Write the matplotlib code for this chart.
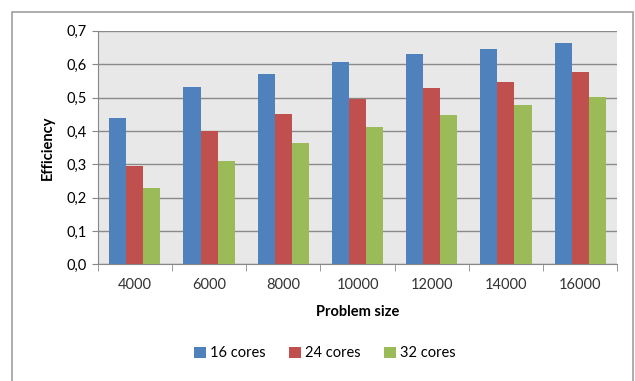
import matplotlib.pyplot as plt
import numpy as np
from matplotlib.patches import Rectangle

sizes = ['4000', '6000', '8000', '10000', '12000', '14000', '16000']
cores16 = [0.44, 0.532, 0.572, 0.606, 0.632, 0.647, 0.664]
cores24 = [0.296, 0.40, 0.452, 0.497, 0.529, 0.548, 0.578]
cores32 = [0.228, 0.309, 0.363, 0.412, 0.448, 0.478, 0.501]
series = [('16 cores', cores16, '#4f81bd'),
          ('24 cores', cores24, '#c0504d'),
          ('32 cores', cores32, '#9bbb59')]

plt.rcParams['font.family'] = ['Lato', 'DejaVu Sans']

fig = plt.figure(figsize=(6.35, 3.81), dpi=100)
# outer chart border
fig.patches.append(Rectangle((0.019, -0.01), 0.978, 0.978, transform=fig.transFigure,
                             fill=False, edgecolor='#a0a0a0', linewidth=1.2))
ax = fig.add_axes([0.154, 0.306, 0.818, 0.613])
ax.set_facecolor('#e8e8e8')

x = np.arange(len(sizes))
w = 0.23
for i, (name, vals, col) in enumerate(series):
    ax.bar(x + (i - 1) * w, vals, w, color=col, label=name, zorder=3)

ax.set_xlim(-0.5, len(sizes) - 0.5)
ax.set_ylim(0, 0.7)
ax.set_yticks(np.arange(0, 0.71, 0.1))
ax.set_yticklabels([('%.1f' % v).replace('.', ',') for v in np.arange(0, 0.71, 0.1)], fontsize=10.5)
ax.set_xticks(x)
ax.set_xticklabels(sizes, fontsize=10.5, color='#333333')
ax.set_xticks(np.arange(-0.5, len(sizes), 1), minor=True)
ax.tick_params(axis='x', which='major', length=0, pad=10)
ax.tick_params(axis='x', which='minor', length=5, color='#888888')
ax.tick_params(axis='y', length=4, color='#888888', pad=4)
ax.grid(axis='y', color='#8a8a8a', linewidth=1, zorder=1)
for s in ['top', 'right']:
    ax.spines[s].set_visible(False)
ax.spines['left'].set_color('#888888')
ax.spines['bottom'].set_color('#888888')

ax.set_xlabel('Problem size', fontsize=10.5, fontweight='bold', labelpad=9)
ax.set_ylabel('Efficiency', fontsize=10.5, fontweight='bold', labelpad=8)

ax.legend(loc='center', bbox_to_anchor=(0.437, -0.38), ncol=3, frameon=False,
          fontsize=10.5, handlelength=0.8, handleheight=0.8, handletextpad=0.3,
          columnspacing=1.6)

fig.savefig('out.png', dpi=100)
